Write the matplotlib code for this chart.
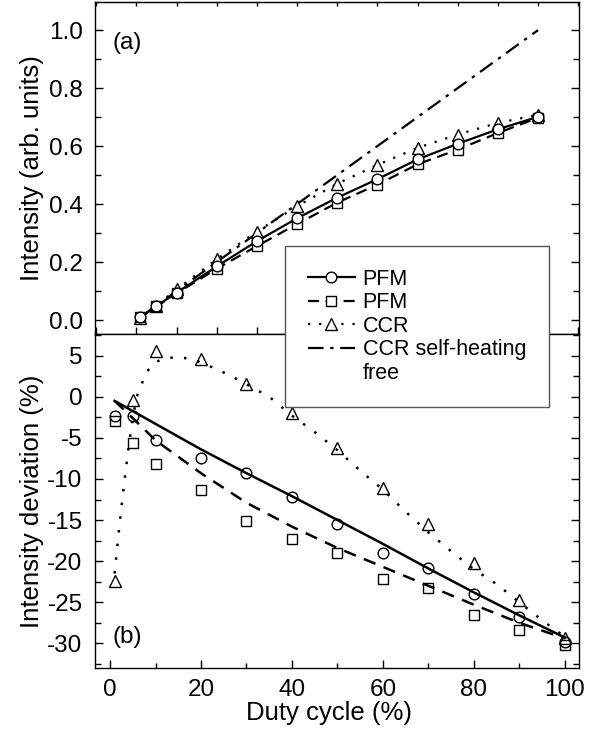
import matplotlib
matplotlib.use('Agg')
import matplotlib.pyplot as plt
from matplotlib.lines import Line2D
from matplotlib.ticker import MultipleLocator, NullFormatter, FormatStrFormatter

plt.rcParams['font.family'] = ['Liberation Sans', 'DejaVu Sans']
plt.rcParams['axes.unicode_minus'] = False

# DATA
duty = [1, 5, 10, 20, 30, 40, 50, 60, 70, 80, 90, 100]

# (a) intensity
pfm_solid = [0.010, 0.049, 0.094, 0.185, 0.272, 0.351, 0.422, 0.486, 0.554, 0.608, 0.658, 0.701]
pfm_dash = [0.010, 0.047, 0.092, 0.177, 0.255, 0.331, 0.405, 0.467, 0.537, 0.588, 0.645, 0.698]
ccr = [0.008, 0.050, 0.106, 0.210, 0.305, 0.393, 0.470, 0.535, 0.594, 0.640, 0.680, 0.708]
ccr_free = [0.01, 0.05, 0.10, 0.20, 0.30, 0.40, 0.50, 0.60, 0.70, 0.80, 0.90, 1.00]

# (b) intensity deviation, points
dev_pfm_solid = [-2.4, -2.4, -5.3, -7.4, -9.3, -12.2, -15.5, -19.0, -20.8, -24.0, -26.8, -29.8]
dev_pfm_dash = [-2.9, -5.6, -8.2, -11.4, -15.1, -17.3, -19.0, -22.2, -23.3, -26.6, -28.4, -30.2]
dev_ccr = [-22.4, -0.4, 5.6, 4.55, 1.5, -2.0, -6.2, -11.1, -15.5, -20.2, -24.7, -29.3]

# (b) curves
fit_x = [1, 10, 20, 30, 40, 50, 60, 70, 80, 90, 100]
fit_pfm_solid = [-0.5, -3.3, -6.4, -9.3, -12.1, -15.0, -17.9, -20.9, -23.8, -26.6, -29.3]
fit_dash_x = [1, 5, 10, 20, 30, 40, 50, 60, 70, 80, 90, 100]
fit_pfm_dash = [-0.5, -2.6, -5.3, -9.3, -12.9, -15.8, -18.4, -20.7, -23.0, -25.3, -27.5, -29.4]
fit_ccr_x = [1, 2, 3, 4, 5, 6, 8, 10, 12, 15, 18, 22, 26, 30, 35, 40, 45, 50,
             55, 60, 65, 70, 75, 80, 85, 90, 95, 100]
fit_ccr = [-21.5, -16.0, -11.0, -6.5, -2.5, 0.2, 3.0, 4.2, 4.7, 4.8, 4.6, 3.7, 2.7,
           1.5, 0.0, -2.3, -4.3, -6.5, -9.0, -11.3, -14.0, -16.5, -18.8, -21.0,
           -22.8, -25.0, -27.2, -29.2]

legend_labels = ['PFM', 'PFM', 'CCR', 'CCR self-heating', 'free']

fig = plt.figure(figsize=(6.01, 7.42), dpi=100)
ax1 = fig.add_axes([0.1581, 0.5495, 0.8053, 0.4482])
ax2 = fig.add_axes([0.1581, 0.0997, 0.8053, 0.4498])

tick_fs = 17.5
lab_fs = 18.5

mk = dict(mfc='white', mec='black', mew=1.0)

# top panel
l4, = ax1.plot(duty, ccr_free, color='black', lw=1.6, ls=(0, (7, 3, 1.5, 3)))
l3, = ax1.plot(duty, ccr, color='black', lw=1.6, ls=(0, (1, 4)), marker='^', ms=8.5, **mk)
l2, = ax1.plot(duty, pfm_dash, color='black', lw=1.6, ls=(0, (5, 3)), marker='s', ms=6.7, **mk)
l1, = ax1.plot(duty, pfm_solid, color='black', lw=1.6, ls='-', marker='o', ms=7.7, **mk)

ax1.set_xlim(-10.3, 110.2)
ax1.set_ylim(-0.049, 1.098)
ax1.xaxis.set_major_locator(MultipleLocator(10))
ax1.xaxis.set_major_formatter(NullFormatter())
ax1.yaxis.set_major_locator(MultipleLocator(0.2))
ax1.yaxis.set_minor_locator(MultipleLocator(0.1))
ax1.yaxis.set_major_formatter(FormatStrFormatter('%.1f'))
ax1.tick_params(axis='x', which='major', direction='inout', length=10, width=1,
                top=False, bottom=True)
ax1.tick_params(axis='y', which='both', direction='in', left=True, right=True,
                labelsize=tick_fs, pad=9, width=1)
ax1.tick_params(axis='y', which='major', length=6)
ax1.tick_params(axis='y', which='minor', length=4)
ax1.set_ylabel('Intensity (arb. units)', fontsize=lab_fs)
ax1.yaxis.set_label_coords(-0.105, 0.5)
ax1.text(0.037, 0.876, '(a)', transform=ax1.transAxes, fontsize=tick_fs, va='center')
sec = ax1.secondary_xaxis('top')
sec.xaxis.set_major_locator(MultipleLocator(10))
sec.xaxis.set_major_formatter(NullFormatter())
sec.tick_params(direction='in', length=3, width=1)

# bottom panel
ax2.plot(fit_ccr_x, fit_ccr, color='black', lw=1.8, ls=(0, (1, 4.5)))
ax2.plot(fit_dash_x, fit_pfm_dash, color='black', lw=1.8, ls=(0, (5, 3.5)))
ax2.plot(fit_x, fit_pfm_solid, color='black', lw=1.8, ls='-')
ax2.plot(duty, dev_ccr, ls='none', marker='^', ms=8.5, mfc='none', mec='black', mew=1.0)
ax2.plot(duty, dev_pfm_dash, ls='none', marker='s', ms=6.7, mfc='none', mec='black', mew=1.0)
ax2.plot(duty, dev_pfm_solid, ls='none', marker='o', ms=7.7, mfc='none', mec='black', mew=1.0)

ax2.set_xlim(-3.3, 103.1)
ax2.set_ylim(-33.0, 7.6)
ax2.xaxis.set_major_locator(MultipleLocator(20))
ax2.xaxis.set_minor_locator(MultipleLocator(10))
ax2.yaxis.set_major_locator(MultipleLocator(5))
ax2.yaxis.set_minor_locator(MultipleLocator(2.5))
ax2.tick_params(axis='both', which='both', direction='in', width=1,
                labelsize=tick_fs, top=False, right=True)
ax2.tick_params(axis='x', which='major', length=6, pad=8)
ax2.tick_params(axis='x', which='minor', length=3.5)
ax2.tick_params(axis='y', which='major', length=6, pad=9)
ax2.tick_params(axis='y', which='minor', length=4)
ax2.set_ylabel('Intensity deviation (%)', fontsize=lab_fs)
ax2.yaxis.set_label_coords(-0.105, 0.5)
ax2.set_xlabel('Duty cycle (%)', fontsize=lab_fs)
ax2.xaxis.set_label_coords(0.483, -0.1)
ax2.text(0.037, 0.093, '(b)', transform=ax2.transAxes, fontsize=tick_fs, va='center')

for ax in (ax1, ax2):
    for s in ax.spines.values():
        s.set_linewidth(1.0)

# second line of the last label gets an empty handle
blank = Line2D([], [], color='none')
leg = fig.legend([l1, l2, l3, l4, blank], legend_labels,
                 loc='upper left', bbox_to_anchor=(285 / 601, 1 - 246 / 742),
                 borderaxespad=0, fontsize=15.5, handlelength=2.2, handletextpad=0.36,
                 borderpad=1.05, labelspacing=0.12, fancybox=False, framealpha=1,
                 edgecolor='#555555')
leg.get_frame().set_linewidth(1.0)

fig.savefig('out.png', dpi=100)
